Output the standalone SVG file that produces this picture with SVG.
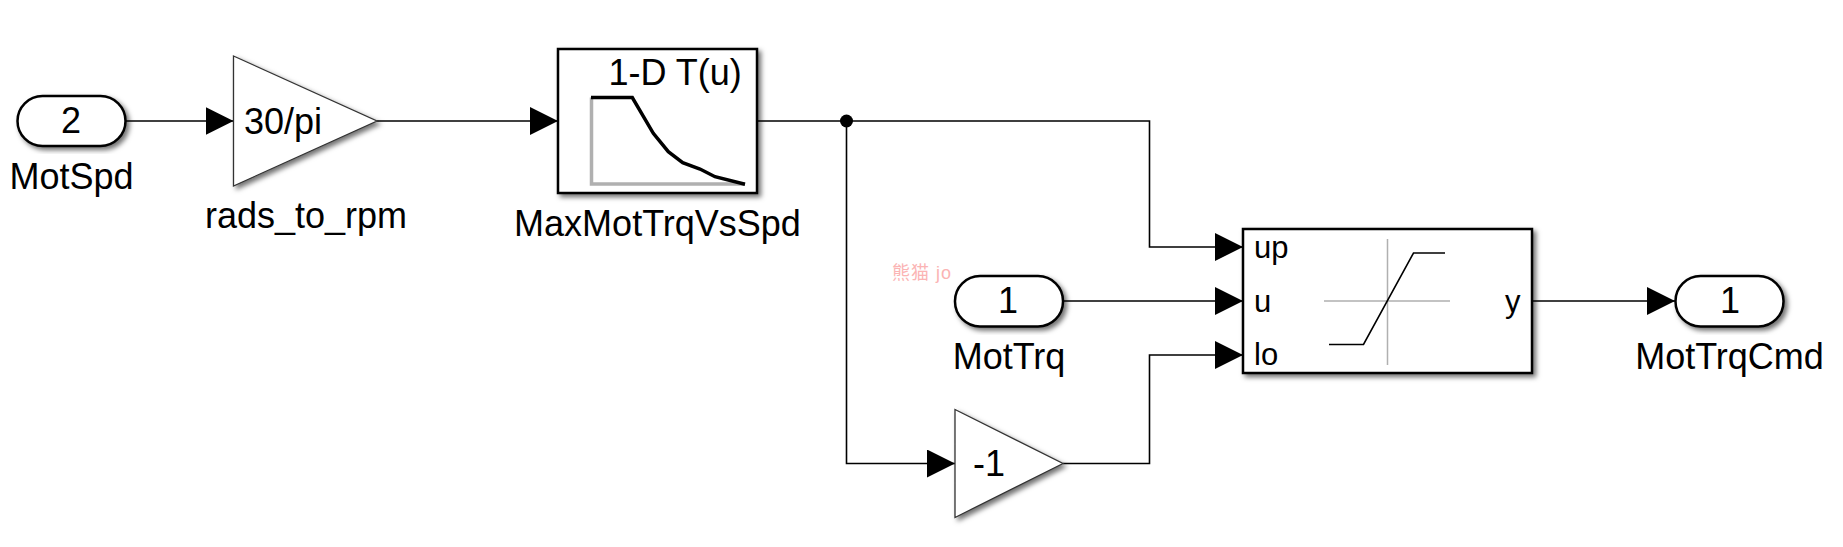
<svg xmlns="http://www.w3.org/2000/svg" width="1843" height="547" viewBox="0 0 1843 547">
<style>
text{font-family:"Liberation Sans",Arial,sans-serif;fill:#000;font-size:36px}
.m{text-anchor:middle}
.p{font-size:31px}
.blk{fill:#fff;stroke:#000;stroke-width:2.5;filter:url(#sh)}
.tri{fill:#fff;stroke:#333;stroke-width:1.3;filter:url(#sh)}
.wire{fill:none;stroke:#000;stroke-width:1.6;marker-end:url(#arr)}
.gray{fill:none;stroke:#b0b0b0}
</style>
<defs>
<filter id="sh" x="-10%" y="-10%" width="125%" height="125%"><feDropShadow dx="3" dy="3" stdDeviation="2.5" flood-color="#000" flood-opacity="0.55"/></filter>
<marker id="arr" markerUnits="userSpaceOnUse" markerWidth="28" markerHeight="28" refX="28" refY="14" orient="auto" viewBox="0 0 28 28"><path d="M0 0L28 14L0 28Z" fill="#000"/></marker>
</defs>
<rect width="1843" height="547" fill="#fff"/>
<g id="connectors">
<path class="wire" d="M126 121H233.500"/>
<path class="wire" d="M377 121H558"/>
<path class="wire" d="M757 121H1149.500V247H1243"/>
<path class="wire" d="M846.500 121V463.500H955"/>
<path class="wire" d="M1063 301H1243"/>
<path class="wire" d="M1063 463.500H1149.500V355H1243"/>
<path class="wire" d="M1532 301H1675"/>
<circle cx="846.500" cy="121" r="6.500" fill="#000"/>
</g>
<g id="inport-motspd">
<rect class="blk" x="17.500" y="96" width="108" height="50" rx="25"/>
<text class="m" x="71" y="133">2</text>
<text class="m" x="71.500" y="189">MotSpd</text>
</g>
<g id="gain-rads-to-rpm">
<path class="tri" d="M233.500 56L377 121L233.500 186Z"/>
<text x="244" y="134">30/pi</text>
<text class="m" x="306" y="228">rads_to_rpm</text>
</g>
<g id="lookup-maxmottrqvsspd">
<rect class="blk" x="558" y="49" width="199" height="144"/>
<text x="608.500" y="85">1-D T(u)</text>
<path class="gray" stroke-width="3.500" d="M591.500 97.500V184H745"/>
<path fill="none" stroke="#000" stroke-width="3.500" d="M591 97.500H632.300L653.300 133.300L668.300 151.700L682.700 162.700L700 169L715 176.700L745 184.300"/>
<text class="m" x="657.500" y="236">MaxMotTrqVsSpd</text>
</g>
<g id="inport-mottrq">
<rect class="blk" x="955" y="276" width="108" height="50.500" rx="25"/>
<text class="m" x="1008" y="313">1</text>
<text class="m" x="1009" y="369">MotTrq</text>
</g>
<g id="gain-neg1">
<path class="tri" d="M955 409.500L1063 463.500L955 517.500Z"/>
<text x="973" y="476">-1</text>
</g>
<g id="saturation">
<rect class="blk" x="1243" y="229" width="289" height="144"/>
<text class="p" x="1254" y="258">up</text>
<text class="p" x="1254" y="312">u</text>
<text class="p" x="1254" y="365">lo</text>
<text class="p" x="1505" y="312">y</text>
<path class="gray" stroke-width="1.500" d="M1387.500 239V365M1324 301H1450"/>
<path fill="none" stroke="#000" stroke-width="1.600" d="M1329 344.500H1363.500L1413.500 253H1445"/>
</g>
<g id="outport-mottrqcmd">
<rect class="blk" x="1675.500" y="276" width="108" height="50.500" rx="25"/>
<text class="m" x="1730" y="313">1</text>
<text class="m" x="1729.500" y="369">MotTrqCmd</text>
</g>
<text id="watermark" x="892" y="279" style="font-size:18px;letter-spacing:1px;fill:#fbb4b4;font-family:'Liberation Sans','Noto Sans CJK SC',sans-serif">熊猫 jo</text>
</svg>
